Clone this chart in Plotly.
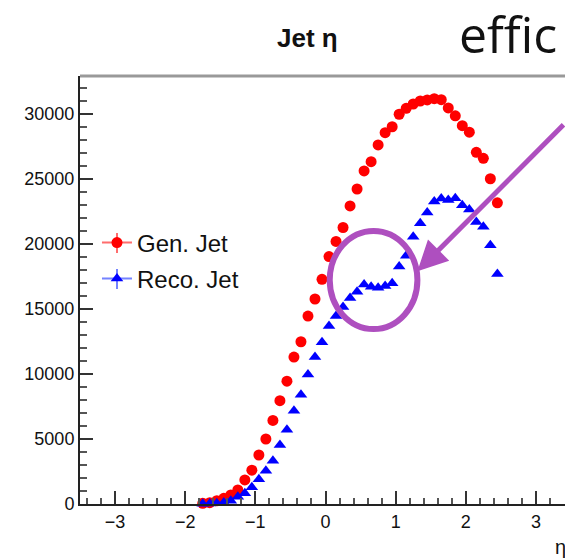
import plotly.graph_objects as go

# ---- data ----
eta = [-1.75, -1.65, -1.55, -1.45, -1.35, -1.25, -1.15, -1.05, -0.95, -0.85,
       -0.75, -0.65, -0.55, -0.45, -0.35, -0.25, -0.15, -0.05, 0.05, 0.15,
       0.25, 0.35, 0.45, 0.55, 0.65, 0.75, 0.85, 0.95, 1.05, 1.15,
       1.25, 1.35, 1.45, 1.55, 1.65, 1.75, 1.85, 1.95, 2.05, 2.15,
       2.25, 2.35, 2.45]

gen_jet = [50, 100, 250, 440, 700, 1080, 1850, 2600, 3770, 5000,
           6430, 7950, 9450, 11300, 12480, 14460, 15770, 17280, 19030, 20200,
           21270, 22930, 24230, 25620, 26330, 27620, 28560, 29020, 29980, 30440,
           30770, 31000, 31080, 31180, 31100, 30470, 29860, 29100, 28600, 27050,
           26590, 25020, 23170]

reco_jet = [20, 30, 60, 120, 250, 560, 820, 1280, 1900, 2560,
            3330, 4540, 5710, 7180, 8400, 9960, 11300, 12450, 13690, 14460,
            15150, 15840, 16330, 16880, 16720, 16640, 16770, 16980, 18260, 19100,
            20560, 21600, 22420, 23260, 23500, 23380, 23510, 22980, 22650, 21700,
            21330, 19900, 17700]

y_ticks = [0, 5000, 10000, 15000, 20000, 25000, 30000]
x_ticks = [-3, -2, -1, 0, 1, 2, 3]

FONT = "Liberation Sans"
PURPLE = "#AE4FBF"
RED_LEG = "rgba(255,60,60,0.75)"
BLUE_LEG = "rgba(70,90,255,0.75)"

fig = go.Figure()

fig.add_trace(go.Scatter(
    x=eta, y=gen_jet, mode="markers", showlegend=False,
    marker=dict(symbol="circle", size=11, color="#ff0000"),
    cliponaxis=False))
fig.add_trace(go.Scatter(
    x=eta, y=reco_jet, mode="markers", showlegend=False,
    marker=dict(symbol="triangle-up", size=11, color="#0000ff"),
    cliponaxis=False))

# legend entries
fig.add_trace(go.Scatter(
    x=[None], y=[None], mode="lines+markers", name="Gen. Jet", legend="legend",
    line=dict(color=RED_LEG, width=2),
    marker=dict(symbol="circle", size=11, color="#ff0000")))
fig.add_trace(go.Scatter(
    x=[None], y=[None], mode="lines+markers", name="Reco. Jet", legend="legend2",
    line=dict(color=BLUE_LEG, width=2),
    marker=dict(symbol="triangle-up", size=11, color="#0000ff")))

fig.update_layout(
    width=565, height=558,
    margin=dict(l=80, r=0, t=76, b=54),
    paper_bgcolor="white", plot_bgcolor="white",
    font=dict(family=FONT, size=18, color="#111"),
    legend=dict(x=0.035, y=0.6098, xanchor="left", yanchor="middle",
                bgcolor="rgba(0,0,0,0)", font=dict(size=24, family=FONT)),
    legend2=dict(x=0.035, y=0.5257, xanchor="left", yanchor="middle",
                 bgcolor="rgba(0,0,0,0)", font=dict(size=24, family=FONT)),
    xaxis=dict(range=[-3.5, 3.414], tickvals=x_ticks, ticks="inside", ticklen=13,
               tickwidth=2, tickcolor="#333", showline=True, linecolor="#222",
               linewidth=2, showgrid=False, zeroline=False,
               tickfont=dict(size=18, family=FONT),
               minor=dict(dtick=0.2, ticks="inside", ticklen=6, tickwidth=2,
                          tickcolor="#555", showgrid=False)),
    yaxis=dict(range=[0, 32923], tickvals=y_ticks, tickformat="d", ticks="inside",
               ticklen=13, tickwidth=2, tickcolor="#333", showline=True,
               linecolor="#222", linewidth=2, showgrid=False, zeroline=False,
               tickfont=dict(size=18, family=FONT),
               minor=dict(dtick=1000, ticks="inside", ticklen=7, tickwidth=2,
                          tickcolor="#555", showgrid=False)),
)

# top frame line (grey)
fig.add_shape(type="line", xref="paper", yref="paper", x0=0, x1=1, y0=1, y1=1,
              line=dict(color="#999", width=3))

# vertical error-bar strokes of the legend symbols
for (yc, col) in [(243, RED_LEG), (279, BLUE_LEG)]:
    fig.add_shape(type="line", xref="paper", yref="paper",
                  x0=(117 - 80) / 485, x1=(117 - 80) / 485,
                  y0=(504 - (yc - 10)) / 428, y1=(504 - (yc + 10)) / 428,
                  line=dict(color=col, width=2))

# purple circle annotation
fig.add_shape(type="circle", xref="x", yref="y", x0=0.06, x1=1.31, y0=13460, y1=21000,
              line=dict(color=PURPLE, width=6))

# purple arrow
fig.add_annotation(x=1.31, y=17900, xref="x", yref="y", text="", showarrow=True,
                   ax=157, ay=-148, arrowhead=2, arrowsize=1.2, arrowwidth=5,
                   arrowcolor=PURPLE, standoff=0)

# title
fig.add_annotation(x=0.470, y=1.0888, xref="paper", yref="paper", text="<b>Jet η</b>",
                   showarrow=False, xanchor="center", yanchor="middle",
                   font=dict(size=26, family=FONT, color="#111"))
# slide text
fig.add_annotation(x=(457 - 80) / 485, y=1.097, xref="paper", yref="paper", text="effic",
                   showarrow=False, xanchor="left", yanchor="middle",
                   font=dict(size=50, family="Open Sans", color="#111"))
# x axis title
fig.add_annotation(x=(553 - 80) / 485, y=-0.10, xref="paper", yref="paper", text="η",
                   showarrow=False, xanchor="left", yanchor="middle",
                   font=dict(size=20, family=FONT, color="#111"))

fig.write_html("out.html")
